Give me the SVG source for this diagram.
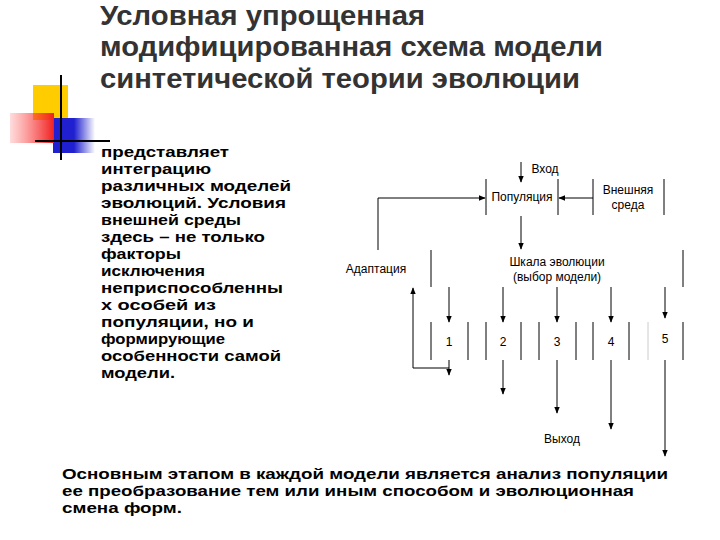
<svg xmlns="http://www.w3.org/2000/svg" width="720" height="540" viewBox="0 0 720 540">
<defs>
<style>
.t{font-family:"Liberation Sans",Arial,sans-serif;font-weight:bold;fill:#000}
.h{font-family:"Liberation Sans",Arial,sans-serif;font-weight:bold;fill:#333;font-size:27px}
.s{font-family:"Liberation Sans",Arial,sans-serif;font-size:12px;fill:#000;text-anchor:middle}
.b{stroke:#000;stroke-width:1}
.l{stroke:#000;stroke-width:1;fill:none}
</style>
<marker id="a" viewBox="0 0 10 10" refX="9" refY="5" markerWidth="7" markerHeight="7" orient="auto"><path d="M0,1L10,5L0,9z" fill="#000"/></marker>
<linearGradient id="rg" x1="0" x2="1"><stop offset="0" stop-color="#ff5050" stop-opacity="0.2"/><stop offset="1" stop-color="#f02020"/></linearGradient>
<linearGradient id="bg" x1="0" x2="1"><stop offset="0.5" stop-color="#2020d0"/><stop offset="1" stop-color="#2020d0" stop-opacity="0"/></linearGradient>
</defs>
<rect fill="#fff" width="720" height="540"/>
<g id="deco">
<rect x="33" y="85" width="35" height="35" fill="#ffcc00"/>
<rect x="53" y="118" width="42" height="35" fill="url(#bg)"/>
<rect x="10" y="113" width="44" height="30" fill="url(#rg)"/>
<line x1="61" y1="75" x2="61" y2="160" stroke="#000" stroke-width="2"/>
<line x1="35" y1="141" x2="110" y2="141" stroke="#000" stroke-width="2"/>
</g>
<g id="title">
<text class="h" x="100" y="25" textLength="325" lengthAdjust="spacingAndGlyphs">Условная упрощенная</text>
<text class="h" x="100" y="56" textLength="503" lengthAdjust="spacingAndGlyphs">модифицированная схема модели</text>
<text class="h" x="100" y="88" textLength="480" lengthAdjust="spacingAndGlyphs">синтетической теории эволюции</text>
</g>
<g id="body" class="t" font-size="15.5">
<text x="101" y="157" textLength="128" lengthAdjust="spacingAndGlyphs">представляет</text>
<text x="101" y="174" textLength="110" lengthAdjust="spacingAndGlyphs">интеграцию</text>
<text x="101" y="191" textLength="190" lengthAdjust="spacingAndGlyphs">различных моделей</text>
<text x="101" y="208" textLength="185" lengthAdjust="spacingAndGlyphs">эволюций. Условия</text>
<text x="101" y="225" textLength="140" lengthAdjust="spacingAndGlyphs">внешней среды</text>
<text x="101" y="242" textLength="164" lengthAdjust="spacingAndGlyphs">здесь – не только</text>
<text x="101" y="259" textLength="80" lengthAdjust="spacingAndGlyphs">факторы</text>
<text x="101" y="276" textLength="104" lengthAdjust="spacingAndGlyphs">исключения</text>
<text x="101" y="293" textLength="182" lengthAdjust="spacingAndGlyphs">неприспособленны</text>
<text x="101" y="310" textLength="115" lengthAdjust="spacingAndGlyphs">х особей из</text>
<text x="101" y="327" textLength="153" lengthAdjust="spacingAndGlyphs">популяции, но и</text>
<text x="101" y="344" textLength="124" lengthAdjust="spacingAndGlyphs">формирующие</text>
<text x="101" y="361" textLength="180" lengthAdjust="spacingAndGlyphs">особенности самой</text>
<text x="101" y="378" textLength="74" lengthAdjust="spacingAndGlyphs">модели.</text>
</g>
<g id="bottom" class="t" font-size="15.5">
<text x="62" y="479" textLength="606" lengthAdjust="spacingAndGlyphs">Основным этапом в каждой модели является анализ популяции</text>
<text x="62" y="496" textLength="572" lengthAdjust="spacingAndGlyphs">ее преобразование тем или иным способом и эволюционная</text>
<text x="62" y="513" textLength="120" lengthAdjust="spacingAndGlyphs">смена форм.</text>
</g>
<g id="n-vhod"><text class="s" x="545" y="173" font-size="13">Вход</text></g>
<g id="n-pop"><line class="b" x1="486" y1="179" x2="486" y2="215"/><line class="b" x1="558" y1="179" x2="558" y2="215"/><text class="s" x="522" y="201">Популяция</text></g>
<g id="n-env"><line class="b" x1="593" y1="179" x2="593" y2="215"/><line class="b" x1="664" y1="179" x2="664" y2="215"/><text class="s" x="628" y="194">Внешняя</text><text class="s" x="628" y="209">среда</text></g>
<g id="n-adapt"><text class="s" x="376" y="273">Адаптация</text></g>
<g id="n-scale"><line class="b" x1="431" y1="250" x2="431" y2="287"/><line class="b" x1="683" y1="250" x2="683" y2="287"/><text class="s" x="557" y="266">Шкала эволюции</text><text class="s" x="557" y="281">(выбор модели)</text></g>
<g id="n-models">
<line class="b" x1="431" y1="322" x2="431" y2="360"/><line class="b" x1="468" y1="322" x2="468" y2="360"/>
<line class="b" x1="486" y1="322" x2="486" y2="360"/><line class="b" x1="521" y1="322" x2="521" y2="360"/>
<line class="b" x1="539" y1="322" x2="539" y2="360"/><line class="b" x1="576" y1="322" x2="576" y2="360"/>
<line class="b" x1="593" y1="322" x2="593" y2="360"/><line class="b" x1="629" y1="322" x2="629" y2="360"/>
<line x1="648" y1="322" x2="648" y2="360" stroke="#ccc"/><line class="b" x1="683" y1="322" x2="683" y2="360"/>
<text class="s" x="449" y="346">1</text><text class="s" x="503" y="346">2</text><text class="s" x="557" y="346">3</text><text class="s" x="611" y="346">4</text><text class="s" x="665" y="343">5</text>
</g>
<g id="n-vyhod"><text class="s" x="562" y="443" font-size="13">Выход</text></g>
<g id="connectors" class="l" marker-end="url(#a)">
<line x1="521" y1="162" x2="521" y2="182"/>
<line x1="593" y1="198" x2="559" y2="198"/>
<polyline points="378,250 378,198 485,198"/>
<line x1="521" y1="216" x2="521" y2="249"/>
<line x1="449" y1="287" x2="449" y2="322"/>
<line x1="503" y1="287" x2="503" y2="322"/>
<line x1="557" y1="287" x2="557" y2="322"/>
<line x1="611" y1="287" x2="611" y2="322"/>
<line x1="665" y1="287" x2="665" y2="318"/>
<line x1="449" y1="360" x2="449" y2="375"/>
<line x1="503" y1="360" x2="503" y2="394"/>
<line x1="557" y1="360" x2="557" y2="413"/>
<line x1="611" y1="360" x2="611" y2="429"/>
<line x1="665" y1="360" x2="665" y2="456"/>
<polyline points="449,368 413,368 413,288"/>
</g>
</svg>
